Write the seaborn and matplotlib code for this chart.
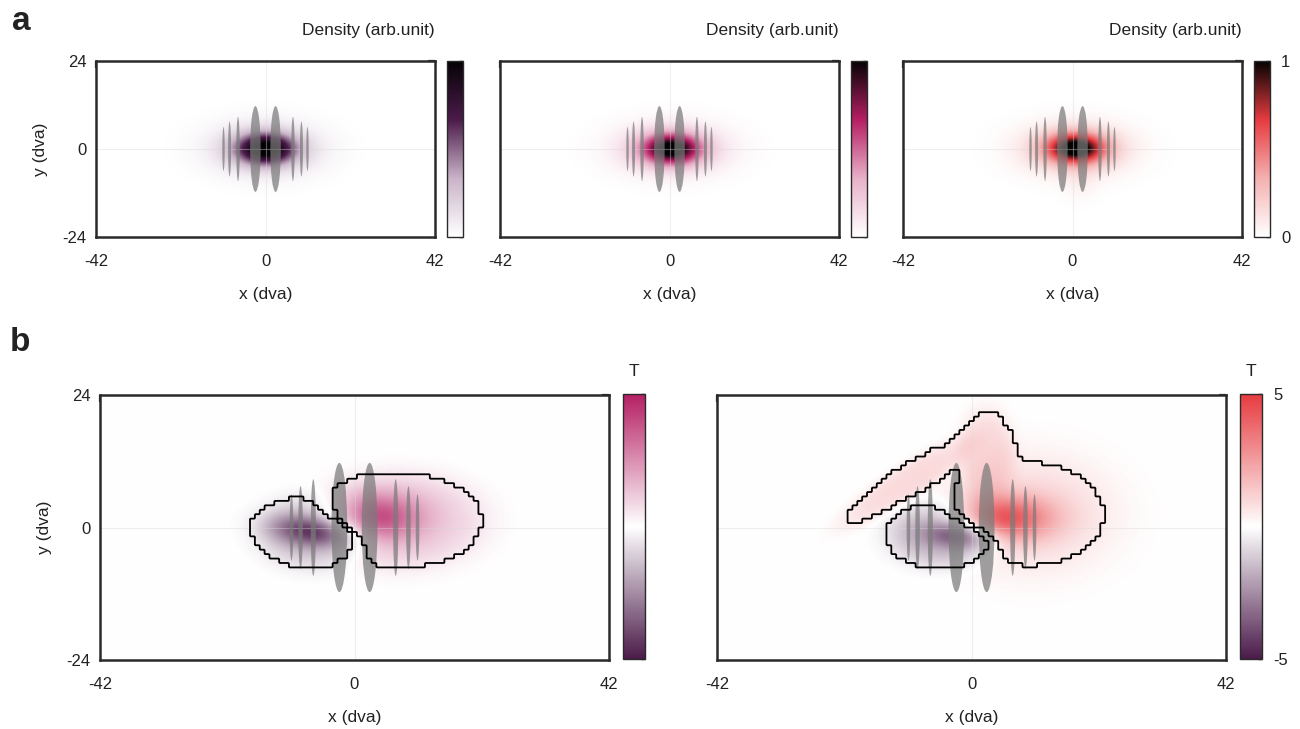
import matplotlib

matplotlib.use("Agg")
import matplotlib.pyplot as plt
from matplotlib.patches import Ellipse
import numpy as np
import seaborn as sns

# --- style ---
sns.set_theme(style="white")
plt.rcParams["font.family"] = ["Liberation Sans", "DejaVu Sans"]
TICK_FS = 12
LABEL_FS = 12.5
PANEL_FS = 24
SPINE_C = "#2a2a2a"

# --- data ---
# visual field limits / tick labels (dva)
x_ticks = [-42, 0, 42]
y_ticks = [-24, 0, 24]

# stimulus bars (grating patches) : centre x, width, height (dva)
stim_x = [-10.4, -8.9, -6.8, -2.5, 2.5, 6.8, 8.9, 10.4]
stim_w = [0.6, 0.75, 0.85, 2.6, 2.6, 0.85, 0.75, 0.6]
stim_h = [12.0, 15.0, 17.5, 23.4, 23.4, 17.5, 15.0, 12.0]

# density blobs, panel a: (x0, y0, sx, sy, angle_deg, power, amplitude)
dens_a1 = [(0.0, 0.0, 4.8, 2.8, 0, 2, 0.85), (0.0, 0.0, 8.5, 4.5, 0, 2, 0.30)]
dens_a2 = [(0.5, 0.0, 4.8, 2.8, 0, 2, 0.85), (0.5, 0.0, 8.7, 4.5, 0, 2, 0.30)]
dens_a3 = [(0.8, 0.2, 4.8, 2.7, 0, 2, 0.85), (0.6, 0.0, 8.5, 4.5, 0, 2, 0.32),
           (2.0, -8.0, 3.0, 4.0, 0, 2, 0.05)]

# T maps, panel b: (x0, y0, sx, sy, angle_deg, power, T)
tmap_b1 = [(-6.8, -0.8, 4.5, 1.9, -8, 2, -3.6), (-6.5, -0.8, 8.0, 5.8, 0, 4, -1.3),
           (3.8, 1.9, 5.0, 3.0, 0, 2, 3.0), (7.5, 1.2, 12.0, 7.5, 0, 4, 1.1)]
tmap_b2 = [(-2.5, -1.4, 3.8, 1.7, -5, 2, -2.8), (-4.6, -1.2, 7.8, 5.2, 0, 4, -1.6),
           (5.0, 1.7, 5.5, 2.8, 0, 2, 3.6), (10.0, 2.5, 10.0, 8.0, 0, 2.5, 1.0),
           (-11.0, 8.0, 11.0, 2.6, 36, 4, 0.9), (2.5, 13.5, 4.0, 7.0, 0, 4, 0.9)]
T_THRESH = 0.5
T_LIM = 5

# colour anchors
c_purple = "#4b1b4a"
c_magenta = "#b51f63"
c_red = "#e63b40"

cmap_a1 = sns.blend_palette(["#ffffff", "#c9b3c8", c_purple, "#050205"], as_cmap=True)
cmap_a2 = sns.blend_palette(["#ffffff", "#e8b0c8", c_magenta, "#050205"], as_cmap=True)
cmap_a3 = sns.blend_palette(["#ffffff", "#f4b0b0", c_red, "#050202"], as_cmap=True)
cmap_b1 = sns.blend_palette([c_purple, "#ffffff", c_magenta], as_cmap=True)
cmap_b2 = sns.blend_palette([c_purple, "#ffffff", c_red], as_cmap=True)


def blob_field(blobs, X, Y):
    F = np.zeros_like(X)
    for x0, y0, sx, sy, ang, pw, amp in blobs:
        t = np.deg2rad(ang)
        dx, dy = X - x0, Y - y0
        u = dx * np.cos(t) + dy * np.sin(t)
        v = -dx * np.sin(t) + dy * np.cos(t)
        r2 = (u / sx) ** 2 + (v / sy) ** 2
        F += amp * np.exp(-0.5 * r2 ** (pw / 2))
    return F


xg = np.linspace(-42, 42, 421)
yg = np.linspace(-24, 24, 241)
XG, YG = np.meshgrid(xg, yg)

# coarse grid for the (pixelated) significance outline
step = 0.8
xc = np.arange(-42 + step / 2, 42, step)
yc = np.arange(-24 + step / 2, 24, step)
XC, YC = np.meshgrid(xc, yc)
up = 4
xf = np.linspace(-42, 42, len(xc) * up)
yf = np.linspace(-24, 24, len(yc) * up)

W, H = 1300, 729
fig = plt.figure(figsize=(W / 100, H / 100), dpi=100)


def fbox(x0, y0, x1, y1):
    return [x0 / W, 1 - y1 / H, (x1 - x0) / W, (y1 - y0) / H]


def style_axes(ax, show_y):
    ax.set_xlim(-42, 42)
    ax.set_ylim(-24, 24)
    ax.set_xticks(x_ticks)
    ax.set_yticks(y_ticks)
    ax.set_xticklabels([str(v) for v in x_ticks])
    ax.set_yticklabels([str(v) for v in y_ticks] if show_y else [])
    ax.tick_params(direction="in", top=True, right=True, length=5, width=1.6,
                   color=SPINE_C, labelsize=TICK_FS, colors="#222222")
    ax.tick_params(axis="x", pad=12)
    ax.tick_params(axis="y", pad=7)
    for s in ax.spines.values():
        s.set_color(SPINE_C)
        s.set_linewidth(1.8)
    ax.axvline(0, color="#d8d8d8", lw=0.8, alpha=0.4, zorder=2)
    ax.axhline(0, color="#d8d8d8", lw=0.8, alpha=0.4, zorder=2)
    ax.set_xlabel("x (dva)", fontsize=LABEL_FS, labelpad=13, color="#222222")
    if show_y:
        ax.set_ylabel("y (dva)", fontsize=LABEL_FS, labelpad=10, color="#222222")
    ax.grid(False)


def draw_stim(ax):
    for x, w, h in zip(stim_x, stim_w, stim_h):
        ax.add_patch(Ellipse((x, 0), w, h, facecolor="#7a7a7a", edgecolor="none",
                             alpha=0.72, zorder=3))


def style_cbar(cb, ticks, labels):
    cb.set_ticks(ticks)
    cb.set_ticklabels(labels)
    cb.ax.tick_params(direction="in", length=3, width=1.0, color=SPINE_C,
                      labelsize=TICK_FS, pad=8, colors="#222222")
    cb.outline.set_edgecolor(SPINE_C)
    cb.outline.set_linewidth(1.0)


# --- panel a ---
a_left = [96, 500, 903]
a_dens = [dens_a1, dens_a2, dens_a3]
a_cmaps = [cmap_a1, cmap_a2, cmap_a3]
for i, (l, dens, cm) in enumerate(zip(a_left, a_dens, a_cmaps)):
    ax = fig.add_axes(fbox(l, 61, l + 339, 237))
    Z = blob_field(dens, XG, YG)
    im = ax.imshow(Z, extent=(-42, 42, -24, 24), origin="lower", aspect="auto",
                   cmap=cm, vmin=0, vmax=1, interpolation="bilinear", zorder=1)
    draw_stim(ax)
    style_axes(ax, show_y=(i == 0))
    cax = fig.add_axes(fbox(l + 351, 61, l + 367, 237))
    cb = fig.colorbar(im, cax=cax)
    tk = list(np.round(np.linspace(0, 1, 11), 2))
    lab = ["0"] + [""] * 9 + ["1"] if i == 2 else [""] * 11
    style_cbar(cb, tk, lab)
    fig.text((l + 339) / W, 1 - 30 / H, "Density (arb.unit)", ha="right",
             va="center", fontsize=LABEL_FS, color="#222222")

# --- panel b ---
b_left = [100, 717]
b_maps = [tmap_b1, tmap_b2]
b_cmaps = [cmap_b1, cmap_b2]
for i, (l, tm, cm) in enumerate(zip(b_left, b_maps, b_cmaps)):
    ax = fig.add_axes(fbox(l, 395, l + 509, 660))
    Z = blob_field(tm, XG, YG)
    im = ax.imshow(Z, extent=(-42, 42, -24, 24), origin="lower", aspect="auto",
                   cmap=cm, vmin=-T_LIM, vmax=T_LIM, interpolation="bilinear",
                   zorder=1)
    draw_stim(ax)
    # pixelated outline of the significant clusters
    ZC = blob_field(tm, XC, YC)
    for mask in (ZC > T_THRESH, ZC < -T_THRESH):
        M = np.kron(mask.astype(float), np.ones((up, up)))
        ax.contour(xf, yf, M, levels=[0.5], colors="black", linewidths=1.3,
                   zorder=4)
    style_axes(ax, show_y=(i == 0))
    cax = fig.add_axes(fbox(l + 523, 394, l + 545, 659))
    cb = fig.colorbar(im, cax=cax)
    lab = ["-5", "", "5"] if i == 1 else ["", "", ""]
    style_cbar(cb, [-5, 0, 5], lab)
    fig.text((l + 534) / W, 1 - 372 / H, "T", ha="center", va="center",
             fontsize=LABEL_FS, color="#222222")

# panel letters
fig.text(12 / W, 1 - 30 / H, "a", fontsize=PANEL_FS, fontweight="bold",
         ha="left", va="baseline", color="#222222")
fig.text(10 / W, 1 - 351 / H, "b", fontsize=PANEL_FS, fontweight="bold",
         ha="left", va="baseline", color="#222222")

fig.savefig("out.png", dpi=100)
